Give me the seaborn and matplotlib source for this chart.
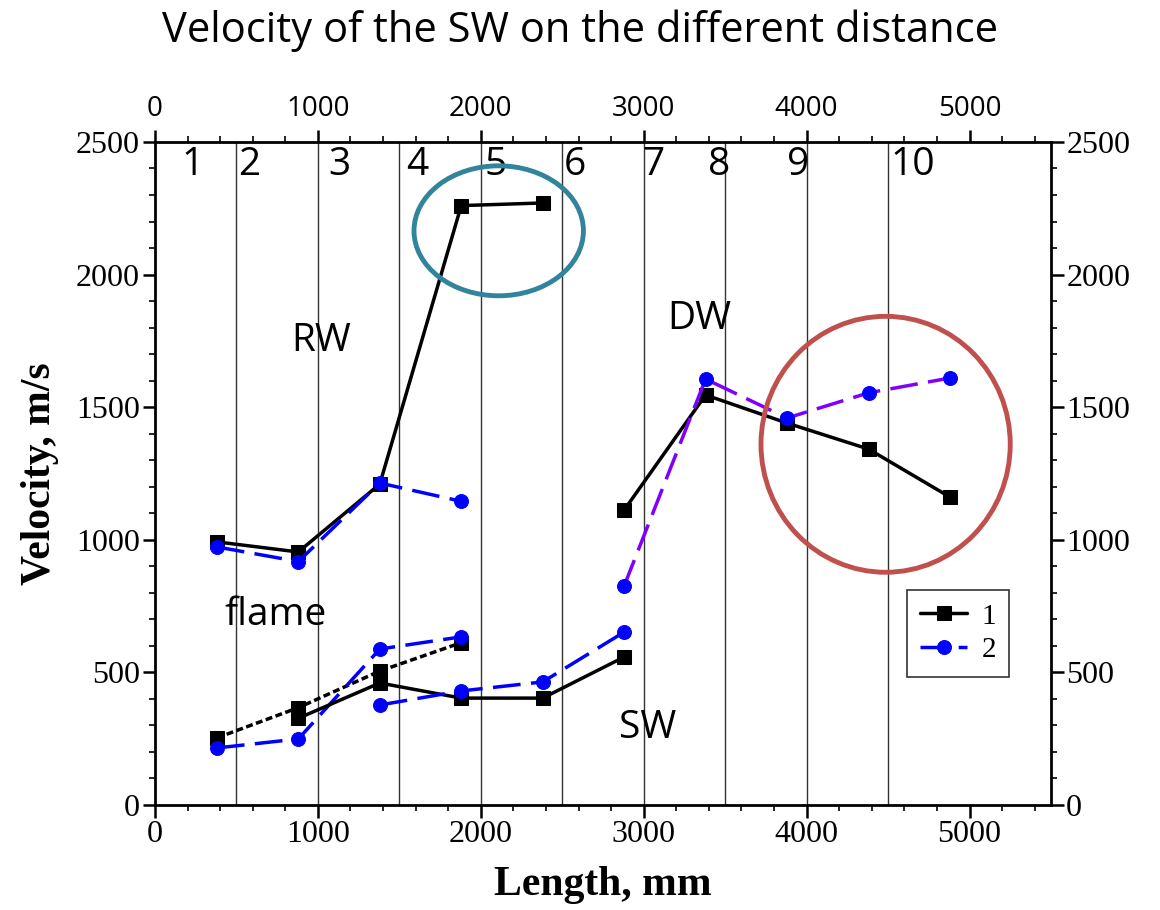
import pandas as pd
import matplotlib.pyplot as plt
import seaborn as sns
from matplotlib.patches import Ellipse
from matplotlib.ticker import MultipleLocator

# data
x_rw_1 = [380, 880, 1380, 1880, 2380]
rw_1 = [992, 954, 1210, 2260, 2270]
x_rw_2 = [380, 880, 1380, 1880]
rw_2 = [973, 918, 1214, 1145]

x_flame = [380, 880, 1380, 1880]
flame_1 = [253, 367, 505, 612]
flame_2 = [215, 249, 588, 634]

x_sw_1 = [880, 1380, 1880, 2380, 2880]
sw_1 = [327, 460, 403, 403, 558]
x_sw_2 = [1380, 1880, 2380, 2880]
sw_2 = [377, 430, 464, 652]

x_dw = [2880, 3380, 3880, 4380, 4880]
dw_1 = [1112, 1546, 1440, 1342, 1161]
dw_2 = [826, 1606, 1459, 1554, 1610]

zone_labels = ['1', '2', '3', '4', '5', '6', '7', '8', '9', '10']
zone_x = [230, 580, 1130, 1610, 2090, 2580, 3060, 3460, 3950, 4650]
zone_bounds = [500, 1000, 1500, 2000, 2500, 3000, 3500, 4000, 4500]

sns.set_style('white')
plt.rcParams['font.family'] = ['Liberation Serif', 'DejaVu Serif']
plt.rcParams['text.color'] = 'black'
plt.rcParams['axes.labelcolor'] = 'black'
plt.rcParams['xtick.color'] = 'black'
plt.rcParams['ytick.color'] = 'black'

fig = plt.figure(figsize=(11.6, 9.1), dpi=100)
ax = fig.add_axes([0.1336, 0.1154, 0.7724, 0.7286])

# vertical zone lines
for b in zone_bounds:
    ax.axvline(b, color='#333333', lw=1.0, zorder=1)

black = dict(color='black', marker='s', markersize=10, markeredgecolor='black',
             linewidth=2.5, sort=False, ax=ax, zorder=3)
blue = dict(color='#0000ff', marker='o', markersize=10, markeredgecolor='#0000ff',
            linewidth=2.5, sort=False, ax=ax, zorder=3)
dash = (0, (8, 3))

# RW
sns.lineplot(x=x_rw_1, y=rw_1, label='1', **black)
sns.lineplot(x=x_rw_2, y=rw_2, label='2', linestyle=dash, **blue)
# flame
sns.lineplot(x=x_flame, y=flame_1, linestyle=(0, (2, 1)), **black)
sns.lineplot(x=x_flame, y=flame_2, linestyle=dash, **blue)
# SW
sns.lineplot(x=x_sw_1, y=sw_1, **black)
sns.lineplot(x=x_sw_2, y=sw_2, linestyle=dash, **blue)
# DW
sns.lineplot(x=x_dw, y=dw_1, **black)
purple = dict(blue)
purple['color'] = '#7f00ff'
purple['markerfacecolor'] = '#0000ff'
sns.lineplot(x=x_dw, y=dw_2, linestyle=dash, **purple)

# highlight ellipses
ax.add_patch(Ellipse((2110, 2165), 1040, 490, fill=False, ec='#31849b', lw=3.5, zorder=4))
ax.add_patch(Ellipse((4485, 1360), 1530, 965, fill=False, ec='#c0504d', lw=3.5, zorder=4))

sans = ['Open Sans', 'DejaVu Sans']
for lab, xv in zip(zone_labels, zone_x):
    ax.text(xv, 2412, lab, family=sans, fontsize=28, ha='center', va='center')
ax.text(1020, 1750, 'RW', family=sans, fontsize=28, ha='center', va='center')
ax.text(3340, 1833, 'DW', family=sans, fontsize=28, ha='center', va='center')
ax.text(740, 715, 'flame', family=sans, fontsize=28, ha='center', va='center')
ax.text(3025, 290, 'SW', family=sans, fontsize=28, ha='center', va='center')

ax.set_xlim(0, 5500)
ax.set_ylim(0, 2500)
ax.xaxis.set_major_locator(MultipleLocator(1000))
ax.xaxis.set_minor_locator(MultipleLocator(200))
ax.yaxis.set_major_locator(MultipleLocator(500))
ax.yaxis.set_minor_locator(MultipleLocator(100))
ax.tick_params(which='major', direction='out', length=9, width=1.8, labelsize=23,
               left=True, right=True, bottom=True, top=True,
               labelleft=True, labelright=True, labelbottom=True, labeltop=False,
               pad=2)
ax.tick_params(which='minor', direction='out', length=4.5, width=1.2,
               left=True, right=True, bottom=True, top=True)
for s in ax.spines.values():
    s.set_linewidth(2)
    s.set_color('black')

ax.set_xlabel('Length, mm', fontsize=30, fontweight='bold', labelpad=12)
ax.set_ylabel('Velocity, m/s', fontsize=30, fontweight='bold', labelpad=12)

# top axis labels use a sans face
top = ax.secondary_xaxis('top')
top.set_xticks([0, 1000, 2000, 3000, 4000, 5000])
top.tick_params(length=0, labelsize=20, pad=14)
for t in top.get_xticklabels():
    t.set_family(sans)
top.spines['top'].set_visible(False)

leg = ax.legend(loc='upper right', bbox_to_anchor=(0.97, 0.346), fontsize=21,
                frameon=True, fancybox=False, edgecolor='black', handlelength=1.6,
                handletextpad=0.5, borderpad=0.45, labelspacing=0.25)
leg.get_frame().set_linewidth(1.2)

fig.suptitle('Velocity of the SW on the different distance', family=sans,
             fontsize=30, y=0.99)

fig.savefig('out.png', dpi=100)
